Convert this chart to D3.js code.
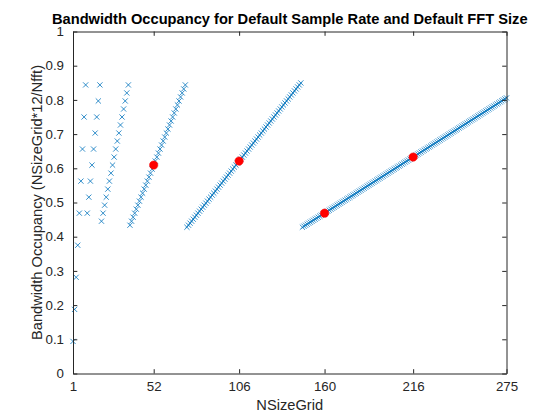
<!DOCTYPE html>
<html>
<head>
<meta charset="utf-8">
<script src="https://cdn.jsdelivr.net/npm/d3@7"></script>
<style>
  html, body { margin: 0; padding: 0; background: #fff; }
  svg { display: block; }
  text { font-family: "Liberation Sans", Arial, Helvetica, sans-serif; }
</style>
</head>
<body>
<svg id="chart" width="560" height="420"></svg>
<script>
// ---------------- data ----------------
const nfftSizes = [128, 256, 512, 1024, 2048, 4096];
// first NSizeGrid value of each Nfft group
const groupStart = [1, 10, 19, 37, 73, 146];

const occNfft128 = [0.0938, 0.1875, 0.2813, 0.3750, 0.4688, 0.5625, 0.6563, 0.7500, 0.8438];
const occNfft256 = [0.4688, 0.5156, 0.5625, 0.6094, 0.6563, 0.7031, 0.7500, 0.7969, 0.8438];
const occNfft512 = [0.4453, 0.4688, 0.4922, 0.5156, 0.5391, 0.5625, 0.5859, 0.6094, 0.6328, 0.6563,
                    0.6797, 0.7031, 0.7266, 0.7500, 0.7734, 0.7969, 0.8203, 0.8438];
const occNfft1024 = [0.4336, 0.4453, 0.4570, 0.4688, 0.4805, 0.4922, 0.5039, 0.5156, 0.5273, 0.5391,
                     0.5508, 0.5625, 0.5742, 0.5859, 0.5977, 0.6094, 0.6211, 0.6328, 0.6445, 0.6563,
                     0.6680, 0.6797, 0.6914, 0.7031, 0.7148, 0.7266, 0.7383, 0.7500, 0.7617, 0.7734,
                     0.7852, 0.7969, 0.8086, 0.8203, 0.8320, 0.8438];
const occNfft2048 = [0.4277, 0.4336, 0.4395, 0.4453, 0.4512, 0.4570, 0.4629, 0.4688, 0.4746, 0.4805,
                     0.4863, 0.4922, 0.4980, 0.5039, 0.5098, 0.5156, 0.5215, 0.5273, 0.5332, 0.5391,
                     0.5449, 0.5508, 0.5566, 0.5625, 0.5684, 0.5742, 0.5801, 0.5859, 0.5918, 0.5977,
                     0.6035, 0.6094, 0.6152, 0.6211, 0.6270, 0.6328, 0.6387, 0.6445, 0.6504, 0.6563,
                     0.6621, 0.6680, 0.6738, 0.6797, 0.6855, 0.6914, 0.6973, 0.7031, 0.7090, 0.7148,
                     0.7207, 0.7266, 0.7324, 0.7383, 0.7441, 0.7500, 0.7559, 0.7617, 0.7676, 0.7734,
                     0.7793, 0.7852, 0.7910, 0.7969, 0.8027, 0.8086, 0.8145, 0.8203, 0.8262, 0.8320,
                     0.8379, 0.8438, 0.8496];
const occNfft4096 = [0.4277, 0.4307, 0.4336, 0.4365, 0.4395, 0.4424, 0.4453, 0.4482, 0.4512, 0.4541,
                     0.4570, 0.4600, 0.4629, 0.4658, 0.4688, 0.4717, 0.4746, 0.4775, 0.4805, 0.4834,
                     0.4863, 0.4893, 0.4922, 0.4951, 0.4980, 0.5010, 0.5039, 0.5068, 0.5098, 0.5127,
                     0.5156, 0.5186, 0.5215, 0.5244, 0.5273, 0.5303, 0.5332, 0.5361, 0.5391, 0.5420,
                     0.5449, 0.5479, 0.5508, 0.5537, 0.5566, 0.5596, 0.5625, 0.5654, 0.5684, 0.5713,
                     0.5742, 0.5771, 0.5801, 0.5830, 0.5859, 0.5889, 0.5918, 0.5947, 0.5977, 0.6006,
                     0.6035, 0.6064, 0.6094, 0.6123, 0.6152, 0.6182, 0.6211, 0.6240, 0.6270, 0.6299,
                     0.6328, 0.6357, 0.6387, 0.6416, 0.6445, 0.6475, 0.6504, 0.6533, 0.6563, 0.6592,
                     0.6621, 0.6650, 0.6680, 0.6709, 0.6738, 0.6768, 0.6797, 0.6826, 0.6855, 0.6885,
                     0.6914, 0.6943, 0.6973, 0.7002, 0.7031, 0.7061, 0.7090, 0.7119, 0.7148, 0.7178,
                     0.7207, 0.7236, 0.7266, 0.7295, 0.7324, 0.7354, 0.7383, 0.7412, 0.7441, 0.7471,
                     0.7500, 0.7529, 0.7559, 0.7588, 0.7617, 0.7646, 0.7676, 0.7705, 0.7734, 0.7764,
                     0.7793, 0.7822, 0.7852, 0.7881, 0.7910, 0.7939, 0.7969, 0.7998, 0.8027, 0.8057];

const groupOccupancy = [occNfft128, occNfft256, occNfft512, occNfft1024, occNfft2048, occNfft4096];

// default NSizeGrid points (red)
const defaultNSizeGrid = [52, 106, 160, 216];
const defaultOccupancy = [0.6094, 0.6211, 0.4688, 0.6328];

const xTickValues = [1, 52, 106, 160, 216, 275];
const yTickValues = [0, 0.1, 0.2, 0.3, 0.4, 0.5, 0.6, 0.7, 0.8, 0.9, 1];
const yTickLabels = ["0", "0.1", "0.2", "0.3", "0.4", "0.5", "0.6", "0.7", "0.8", "0.9", "1"];

const titleText = "Bandwidth Occupancy for Default Sample Rate and Default FFT Size";
const xLabelText = "NSizeGrid";
const yLabelText = "Bandwidth Occupancy (NSizeGrid*12/Nfft)";

// ---------------- layout ----------------
const L = 73, R = 506.5, T = 31.5, B = 373.5;
const axisColor = "#262626";
const tickLen = 4.3;

const svg = d3.select("#chart");
const x = d3.scaleLinear().domain([1, 275]).range([L, R]);
const y = d3.scaleLinear().domain([0, 1]).range([B, T]);

// points
const points = [];
groupOccupancy.forEach((arr, g) => {
  arr.forEach((v, i) => points.push({ n: groupStart[g] + i, occ: v, nfft: nfftSizes[g] }));
});

const a = 2.6;
svg.append("g")
  .selectAll("path")
  .data(points)
  .join("path")
  .attr("transform", d => `translate(${x(d.n)},${y(d.occ)})`)
  .attr("d", `M${-a},${-a}L${a},${a}M${-a},${a}L${a},${-a}`)
  .attr("fill", "none")
  .attr("stroke", "#0072BD")
  .attr("stroke-width", 0.8);

svg.append("g")
  .selectAll("circle")
  .data(defaultNSizeGrid.map((n, i) => ({ n, occ: defaultOccupancy[i] })))
  .join("circle")
  .attr("cx", d => x(d.n))
  .attr("cy", d => y(d.occ))
  .attr("r", 4.2)
  .attr("fill", "#FF0000")
  .attr("stroke", "#FF0000")
  .attr("stroke-width", 0.5);

// axes
const xAxisB = d3.axisBottom(x).tickValues(xTickValues).tickSizeInner(-tickLen).tickSizeOuter(0).tickPadding(8).tickFormat(d3.format("d"));
const xAxisT = d3.axisTop(x).tickValues(xTickValues).tickSizeInner(-tickLen).tickSizeOuter(0).tickFormat("");
const yAxisL = d3.axisLeft(y).tickValues(yTickValues).tickSizeInner(-tickLen).tickSizeOuter(0).tickPadding(9).tickFormat((d, i) => yTickLabels[i]);
const yAxisR = d3.axisRight(y).tickValues(yTickValues).tickSizeInner(-tickLen).tickSizeOuter(0).tickFormat("");

function styleAxis(g) {
  g.select(".domain").attr("stroke", axisColor).attr("stroke-width", 1);
  g.selectAll(".tick line").attr("stroke", axisColor).attr("stroke-width", 1);
  g.selectAll(".tick text").attr("fill", axisColor).style("font-size", "13.3px")
    .style("font-family", '"Liberation Sans", Arial, Helvetica, sans-serif');
}

svg.append("g").attr("transform", `translate(0,${B})`).call(xAxisB).call(styleAxis);
svg.append("g").attr("transform", `translate(0,${T})`).call(xAxisT).call(styleAxis);
svg.append("g").attr("transform", `translate(${L},0)`).call(yAxisL).call(styleAxis);
svg.append("g").attr("transform", `translate(${R},0)`).call(yAxisR).call(styleAxis);

// title & labels
svg.append("text")
  .attr("x", (L + R) / 2).attr("y", 23.5)
  .attr("text-anchor", "middle")
  .attr("font-weight", "bold")
  .attr("font-size", "14.67px")
  .attr("fill", "#000")
  .text(titleText);

svg.append("text")
  .attr("x", (L + R) / 2).attr("y", 410)
  .attr("text-anchor", "middle")
  .attr("font-size", "14.67px")
  .attr("fill", axisColor)
  .text(xLabelText);

svg.append("text")
  .attr("transform", `translate(42,${(T + B) / 2}) rotate(-90)`)
  .attr("text-anchor", "middle")
  .attr("font-size", "14.67px")
  .attr("fill", axisColor)
  .text(yLabelText);
</script>
</body>
</html>
